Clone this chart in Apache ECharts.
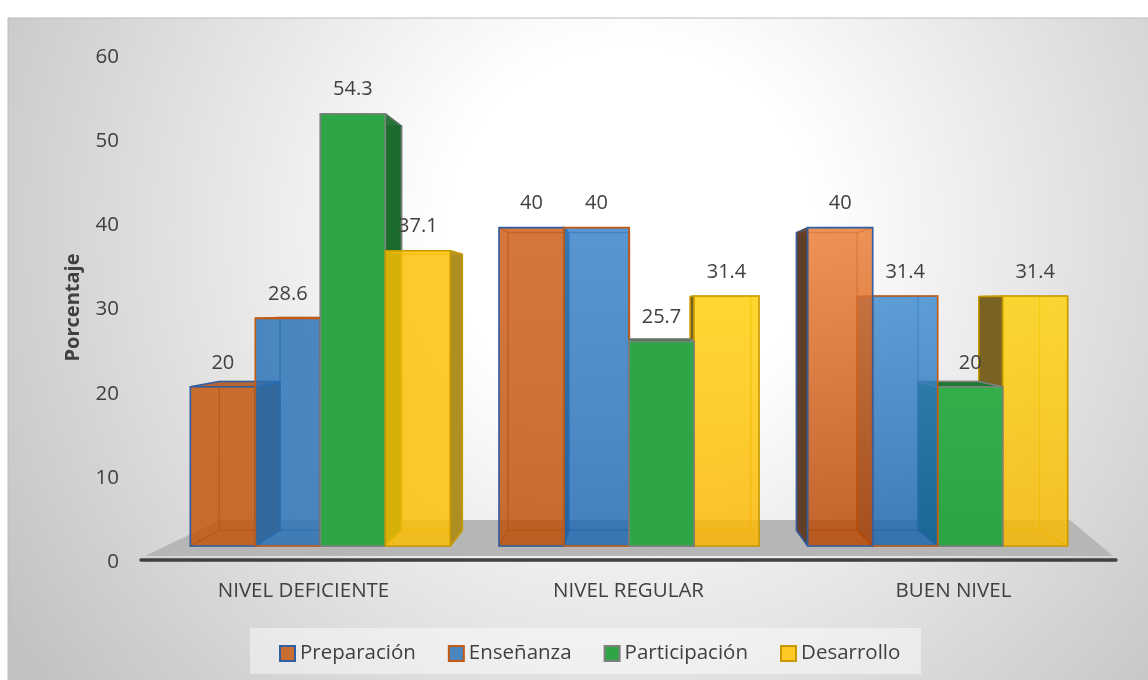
<!DOCTYPE html>
<html><head><meta charset="utf-8">
<style>html,body{margin:0;padding:0;background:#fff}#c{width:1148px;height:680px}</style>
<script src="https://cdn.jsdelivr.net/npm/echarts@6/dist/echarts.min.js"></script>
</head><body><div id="c"></div>
<script>
var categories = ['NIVEL DEFICIENTE', 'NIVEL REGULAR', 'BUEN NIVEL'];
var preparacion = [20, 40, 40];
var ensenanza = [28.6, 40, 31.4];
var participacion = [54.3, 25.7, 20];
var desarrollo = [37.1, 31.4, 31.4];
var yTicks = {min: 0, max: 60, interval: 10};
var seriesNames = ['Preparación', 'Enseñanza', 'Participación', 'Desarrollo'];
var seriesValues = [preparacion, ensenanza, participacion, desarrollo];

var TXT = '#404040', FONT = '"Open Sans", "Noto Sans", sans-serif';
var T = 0.065, VANISH_VALUE = 30.4, VANISH_DX = 6, BAR_RATIO = 65 / 308.7;
var styles = [
  {border:'#2F5FA5', alpha:.82, legend:'#C96E30', line:'rgba(130,65,25,.4)', outerL:'#5F3F28', outerR:'#5F3F28', top:'#B5642E',
   face:[['#C96E30','#C96E30'],['#D2743A','#C56A2F'],['#EC8F55','#C2642A']]},
  {border:'#C55A11', alpha:.82, legend:'#4A87C0', line:'rgba(50,90,130,.4)', outerL:'#4A78A8', outerR:'#4A78A8', top:'#3C6EA0',
   face:[['#4A87C0','#4A87C0'],['#5593CE','#4180BC'],['#5C9CD6','#3F7DB8']]},
  {border:'#7F7F7F', alpha:1, legend:'#2EA648', line:'rgba(20,90,40,.5)', outerL:'#1B6B2C', outerR:'#1B6B2C', top:'#1E7A33',
   face:[['#2EA648','#2EA648'],['#2EA648','#2EA648'],['#34AE4B','#2CA445']]},
  {border:'#C79A00', alpha:.82, legend:'#FFC824', line:'rgba(200,150,0,.45)', outerL:'#7A6222', outerR:'#AE8F24', top:'#D8AC10',
   face:[['#FFC824','#FFC824'],['#FFD42F','#FFC01F'],['#FBD733','#F7C21A']]}
];
function veil(hex, a) {
  var n = parseInt(hex.slice(1), 16), c = [n >> 16, (n >> 8) & 255, n & 255];
  var o = c.map(function (v) { return Math.max(0, Math.min(255, Math.round((v - (1 - a) * 235) / a))); });
  return 'rgba(' + o.join(',') + ',' + a + ')';
}

var chart = echarts.init(document.getElementById('c'), null, {renderer: 'canvas'});

function renderBar(s) {
  return function (params, api) {
    var cat = api.value(0), val = api.value(1), st = styles[s];
    var band = api.size([1, 0])[0], w = band * BAR_RATIO;
    var base = api.coord([cat, 0]), top = api.coord([cat, val]);
    var vp = api.coord([1, VANISH_VALUE]);
    var vx = vp[0] + VANISH_DX, vy = vp[1];
    var x0 = base[0] + (s - 2) * w, x1 = x0 + w, yb = base[1], yt = top[1];
    function bk(p) { return [p[0] + T * (vx - p[0]), p[1] + T * (vy - p[1])]; }
    var fl = [x0, yt], fr = [x1, yt], nl = [x0, yb], nr = [x1, yb];
    var bfl = bk(fl), bfr = bk(fr), bnl = bk(nl), bnr = bk(nr);
    var dist = Math.abs((x0 + x1) / 2 - vx);
    var z = Math.round(1000 - dist) * 10;
    var ch = [];
    function poly(pts, fill, stroke, sw, k) {
      ch.push({type: 'polygon', z2: z + k, shape: {points: pts},
        style: {fill: fill, stroke: stroke, lineWidth: sw, lineJoin: 'round'}});
    }
    var line = st.line;
    // interior edges, seen through the front
    poly([bfl, bfr, bnr, bnl], 'rgba(0,0,0,0.02)', line, 1.5, 0);
    poly([nl, bnl, bnr, nr], 'rgba(0,0,0,0.03)', line, 1.5, 1);
    // side walls
    if (x0 > vx) poly([fl, bfl, bnl, nl], st.outerL, st.border, 1.5, 2);
    else poly([fl, bfl, bnl, nl], 'rgba(0,0,0,0)', line, 1.2, 2);
    if (x1 < vx) poly([fr, bfr, bnr, nr], st.outerR, st.border, 1.5, 2);
    else poly([fr, bfr, bnr, nr], 'rgba(0,0,0,0)', line, 1.2, 2);
    // top
    if (yt > vy) poly([fl, bfl, bfr, fr], st.top, st.border, 1.5, 3);
    else poly([fl, bfl, bfr, fr], 'rgba(255,255,255,0.06)', line, 1.2, 3);
    // front
    var f = st.face[cat];
    ch.push({type: 'rect', z2: z + 4, shape: {x: x0, y: yt, width: w, height: yb - yt},
      style: {
        fill: new echarts.graphic.LinearGradient(0, 0, 0, 1, [
          {offset: 0, color: veil(f[0], st.alpha)}, {offset: 1, color: veil(f[1], st.alpha)}]),
        stroke: st.border, lineWidth: 1.6
      }});
    // value label
    ch.push({type: 'text', z2: 100000, style: {
      text: String(val), x: (x0 + x1) / 2, y: yt - 24, align: 'center', verticalAlign: 'middle',
      textAlign: 'center', textVerticalAlign: 'middle',
      font: '20px ' + FONT, fill: TXT}});
    return {type: 'group', children: ch};
  };
}

var series = seriesNames.map(function (n, s) {
  return {
    name: n, type: 'custom', xAxisIndex: 1, yAxisIndex: 1, animation: false, silent: true,
    clip: false, renderItem: renderBar(s),
    itemStyle: {color: styles[s].legend, borderColor: styles[s].border, borderWidth: 2},
    encode: {x: 0, y: 1},
    data: seriesValues[s].map(function (v, i) { return [i, v]; })
  };
});

chart.setOption({
  animation: false,
  backgroundColor: '#fff',
  graphic: [
    {type: 'rect', z: -10, silent: true, shape: {x: 8, y: 18, width: 1141, height: 663},
      style: {stroke: '#BDBDBD', lineWidth: 1, fill: new echarts.graphic.RadialGradient(630, 230, 740, [
        {offset: 0, color: '#FFFFFF'}, {offset: .25, color: '#FFFFFF'}, {offset: 1, color: '#C2C2C2'}], true)}},
    {type: 'polygon', z: -9, silent: true, shape: {points: [[145, 556], [220, 520], [1070, 520], [1113, 556]]},
      style: {fill: '#B6B6B6'}},
    {type: 'rect', z: -9, silent: true, shape: {x: 250, y: 628, width: 671, height: 46},
      style: {fill: 'rgba(255,255,255,.45)'}}
  ],
  grid: [
    {left: 141, width: 975, top: 55, height: 505},
    {left: 166, width: 926, top: 68.4, height: 477.6},
    {left: 141, width: 975, top: 57, height: 505}
  ],
  xAxis: [
    {type: 'category', gridIndex: 0, data: categories, z: 1,
      axisLine: {lineStyle: {color: '#404040', width: 3.5}}, axisTick: {show: false},
      axisLabel: {color: TXT, fontSize: 20.5, margin: 21, fontFamily: FONT}},
    {type: 'category', gridIndex: 1, data: categories, show: false},
    {type: 'category', gridIndex: 2, data: categories, show: false}
  ],
  yAxis: [
    {type: 'value', gridIndex: 0, min: yTicks.min, max: yTicks.max, interval: yTicks.interval,
      name: 'Porcentaje', nameLocation: 'middle', nameGap: 58, nameRotate: 90,
      nameTextStyle: {color: TXT, fontSize: 20, fontWeight: 'bold', fontFamily: FONT},
      axisLine: {show: false}, axisTick: {show: false}, splitLine: {show: false}, axisLabel: {show: false}},
    {type: 'value', gridIndex: 1, min: yTicks.min, max: yTicks.max, interval: yTicks.interval, show: false, splitLine: {show: false}},
    {type: 'value', gridIndex: 2, min: yTicks.min, max: yTicks.max, interval: yTicks.interval,
      axisLine: {show: false}, axisTick: {show: false}, splitLine: {show: false},
      axisLabel: {color: TXT, fontSize: 20.5, margin: 22, fontFamily: FONT}}
  ],
  legend: {
    left: 274, top: 638, itemWidth: 15, itemHeight: 15, itemGap: 32, selectedMode: false, icon: 'rect',
    textStyle: {color: TXT, fontSize: 20.5, fontFamily: FONT, padding: [0, 0, 0, 0]},
    data: seriesNames
  },
  series: series
});
</script></body></html>
